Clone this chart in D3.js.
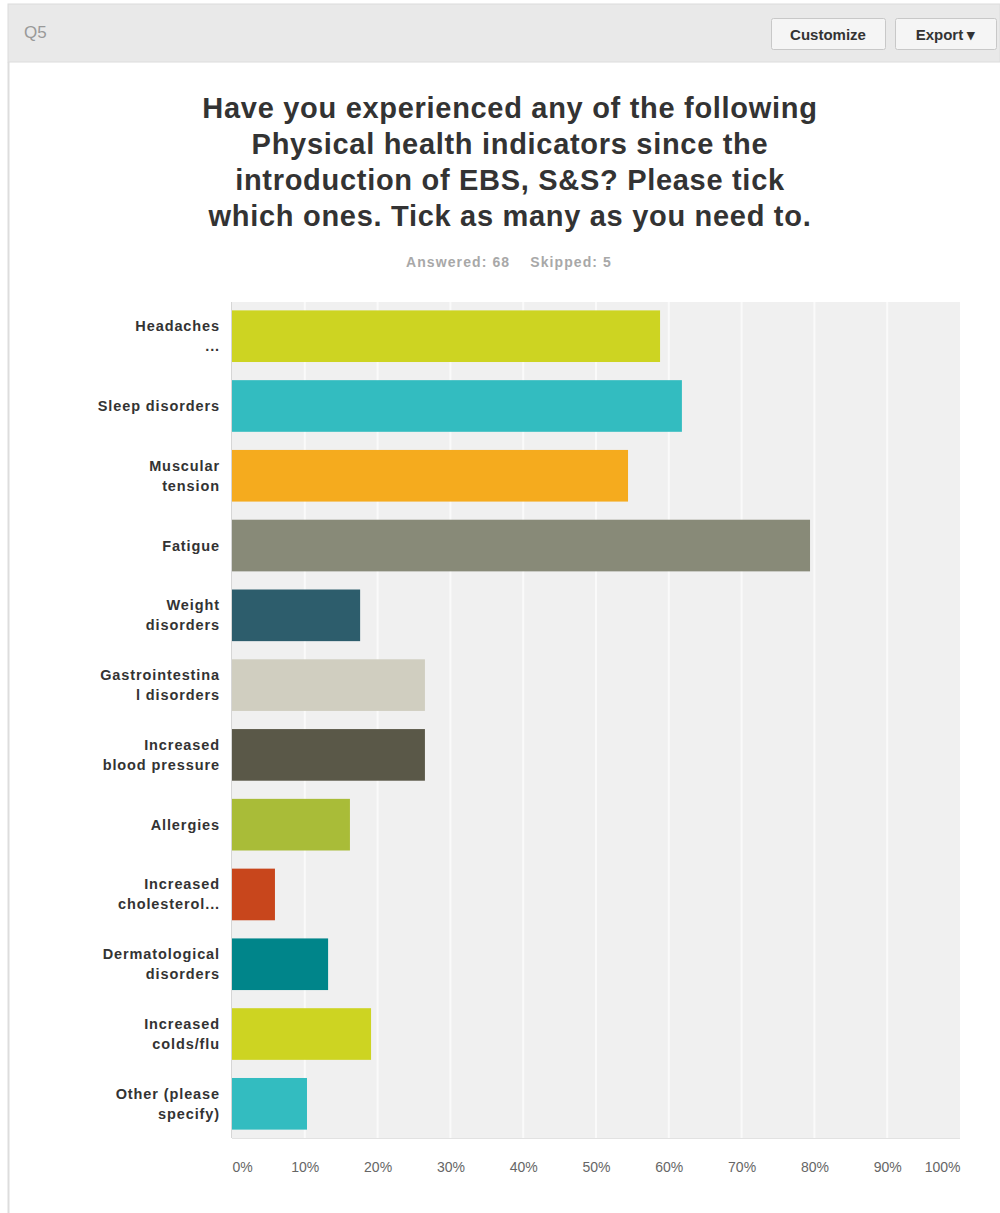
<!DOCTYPE html>
<html>
<head>
<meta charset="utf-8">
<script src="https://cdn.jsdelivr.net/npm/d3@7"></script>
<style>
  body { margin: 0; background: #fff; font-family: "Liberation Sans", Arial, sans-serif; }
  svg { display: block; }
</style>
</head>
<body>
<svg id="chart" width="1000" height="1213"></svg>
<script>
// survey answers, percent of 68 respondents
const categories = [
  "Headaches\n...",
  "Sleep disorders",
  "Muscular\ntension",
  "Fatigue",
  "Weight\ndisorders",
  "Gastrointestina\nl disorders",
  "Increased\nblood pressure",
  "Allergies",
  "Increased\ncholesterol...",
  "Dermatological\ndisorders",
  "Increased\ncolds/flu",
  "Other (please\nspecify)"
];
const values = [58.8, 61.8, 54.4, 79.4, 17.6, 26.5, 26.5, 16.2, 5.9, 13.2, 19.1, 10.3];
const barColors = ["#cdd422", "#33bcc0", "#f5ab1e", "#888a78", "#2d5d6c", "#d0cec0",
                   "#5a5848", "#a9bc38", "#c8461c", "#00858a", "#cdd422", "#33bcc0"];
const ticks = [0, 10, 20, 30, 40, 50, 60, 70, 80, 90, 100];
const titleLines = [
  "Have you experienced any of the following",
  "Physical health indicators since the",
  "introduction of EBS, S&S? Please tick",
  "which ones. Tick as many as you need to."
];

const svg = d3.select("#chart");

// header strip
svg.append("rect").attr("x", 8).attr("y", 4).attr("width", 992).attr("height", 58)
  .attr("fill", "#e9e9e9").attr("stroke", "#dcdcdc");
svg.append("line").attr("x1", 8.5).attr("x2", 8.5).attr("y1", 62).attr("y2", 1213)
  .attr("stroke", "#dddddd").attr("stroke-width", 2);
svg.append("text").attr("x", 24).attr("y", 38).text("Q5")
  .attr("font-size", 17).attr("fill", "#999");

const buttons = [
  { label: "Customize", x: 771, w: 114 },
  { label: "Export \u25BE", x: 895, w: 101 }
];
const btn = svg.selectAll("g.btn").data(buttons).join("g").attr("class", "btn");
btn.append("rect").attr("x", d => d.x + 0.5).attr("y", 18.5).attr("width", d => d.w).attr("height", 31)
  .attr("rx", 2).attr("fill", "#f5f5f5").attr("stroke", "#c8c8c8");
btn.append("text").attr("x", d => d.x + d.w / 2).attr("y", 40).attr("text-anchor", "middle")
  .attr("font-size", 15).attr("font-weight", "bold").attr("fill", "#333").text(d => d.label);

// title
svg.append("g").selectAll("text").data(titleLines).join("text")
  .attr("x", 510).attr("y", (d, i) => 118 + i * 36)
  .attr("text-anchor", "middle").attr("font-size", 29).attr("font-weight", "bold")
  .attr("letter-spacing", 0.7).attr("fill", "#333").text(d => d);

svg.append("text").attr("x", 509).attr("y", 267).attr("text-anchor", "middle")
  .attr("font-size", 14).attr("font-weight", "bold").attr("fill", "#a8a8a8")
  .attr("letter-spacing", 1.1)
  .attr("xml:space", "preserve").text("Answered: 68    Skipped: 5");

// plot
const plotL = 232, plotR = 960, plotT = 302, plotB = 1138;

const x = d3.scaleLinear().domain([0, 100]).range([plotL, plotR]);
const y = d3.scaleBand().domain(categories).range([plotT, plotB])
  .paddingInner(0.26).paddingOuter(0.12);

svg.append("rect").attr("x", plotL).attr("y", plotT).attr("width", plotR - plotL).attr("height", plotB - plotT)
  .attr("fill", "#f0f0f0");

svg.append("g").selectAll("line").data(ticks.slice(1, -1)).join("line")
  .attr("x1", d => x(d)).attr("x2", d => x(d)).attr("y1", plotT).attr("y2", plotB)
  .attr("stroke", "#fafafa").attr("stroke-width", 2);

svg.append("line").attr("x1", plotL - 0.5).attr("x2", plotL - 0.5).attr("y1", plotT).attr("y2", plotB)
  .attr("stroke", "#d6d6d6").attr("stroke-width", 1);
svg.append("line").attr("x1", plotL).attr("x2", plotR).attr("y1", plotB + 0.5).attr("y2", plotB + 0.5)
  .attr("stroke", "#e2e2e2").attr("stroke-width", 1);

svg.append("g").selectAll("rect").data(values).join("rect")
  .attr("x", x(0)).attr("y", (d, i) => y(categories[i]))
  .attr("width", d => x(d) - x(0)).attr("height", y.bandwidth())
  .attr("fill", (d, i) => barColors[i]);

// category labels
const labels = svg.append("g").selectAll("text").data(categories).join("text")
  .attr("text-anchor", "end").attr("font-size", 14.5).attr("font-weight", "bold")
  .attr("letter-spacing", 0.9).attr("fill", "#333");
labels.each(function (d) {
  const lines = d.split("\n");
  const cy = y(d) + y.bandwidth() / 2;
  const lh = 20;
  d3.select(this).selectAll("tspan").data(lines).join("tspan")
    .attr("x", 220)
    .attr("y", (l, i) => cy + 5 + (i - (lines.length - 1) / 2) * lh)
    .text(l => l);
});

// x axis
const xAxis = d3.axisBottom(x).tickValues(ticks).tickFormat(d => d + "%").tickSize(0).tickPadding(0);
const ax = svg.append("g").attr("transform", `translate(0,${plotB + 24})`).call(xAxis);
ax.select(".domain").remove();
ax.selectAll("text").attr("font-size", 14).attr("fill", "#666")
  .attr("font-family", "\"Liberation Sans\", Arial, sans-serif")
  .attr("text-anchor", d => d === 0 ? "start" : d === 100 ? "end" : "middle");
</script>
</body>
</html>
